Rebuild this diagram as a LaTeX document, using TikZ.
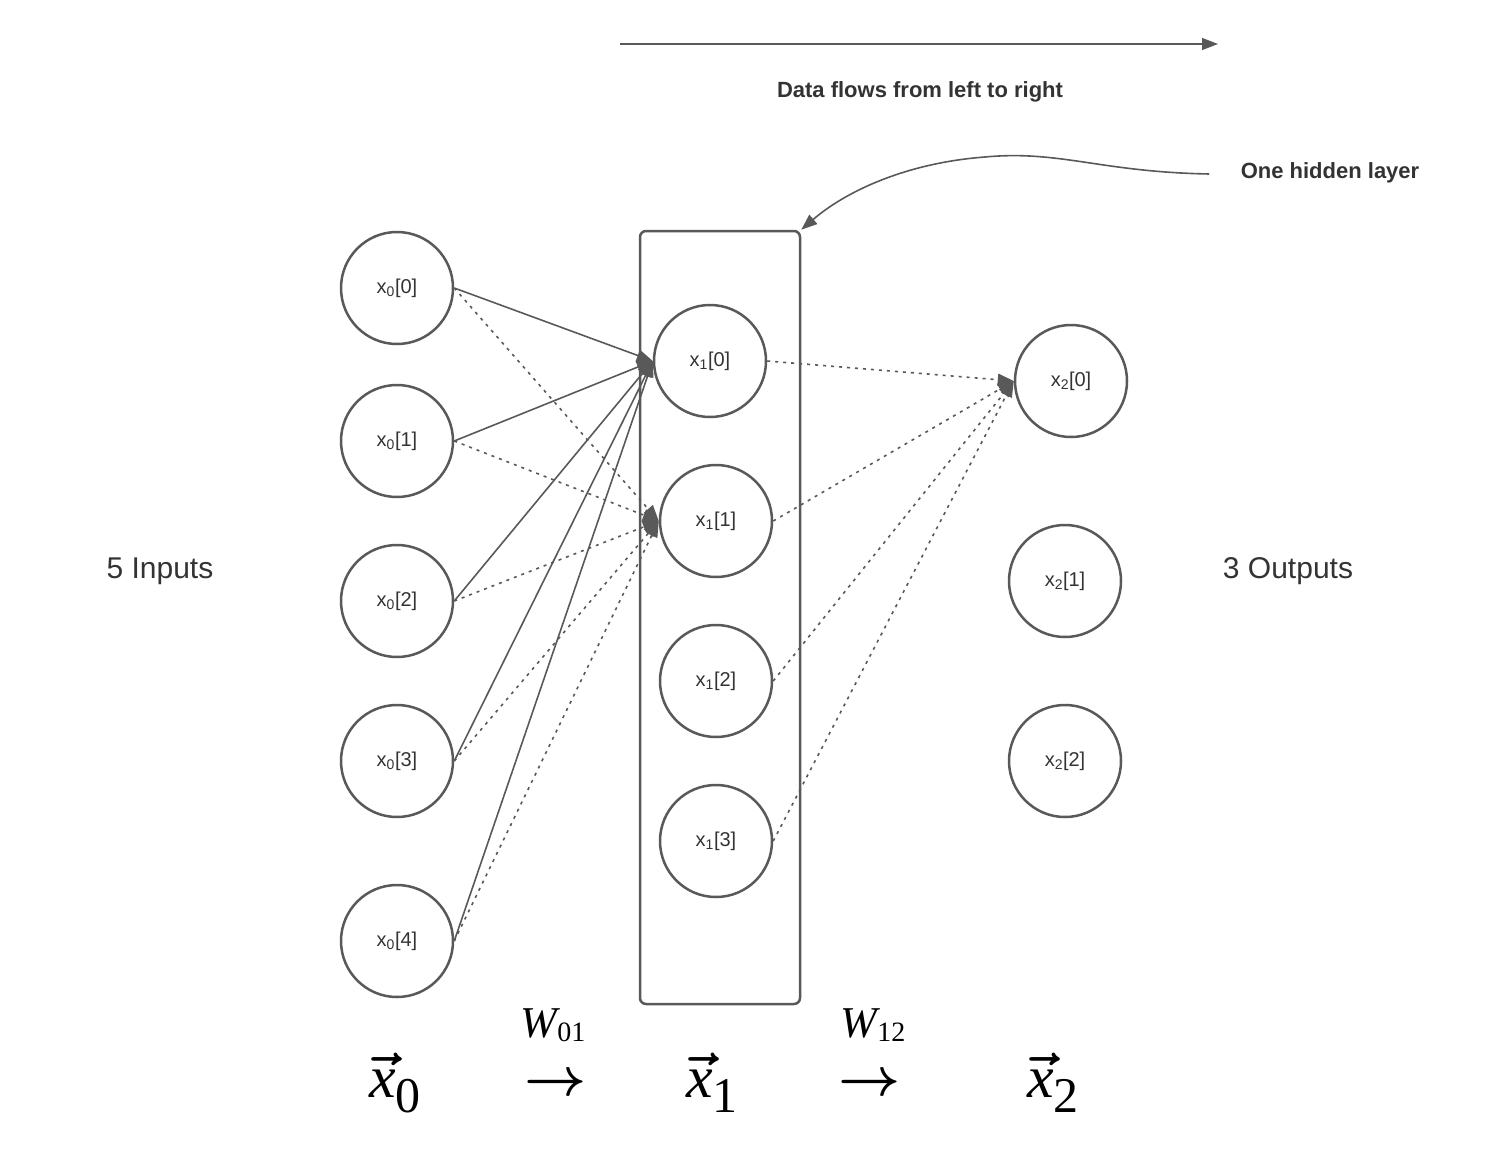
\RequirePackage{fix-cm}
\documentclass[tikz,border=0pt]{standalone}
\usepackage{fontspec}
\setmainfont{Liberation Sans}
\newfontfamily\eqfont{Liberation Serif}
\usetikzlibrary{positioning, arrows.meta}
\usetikzlibrary{calc}
\definecolor{edgegray}{RGB}{89,89,89}
\definecolor{textgray}{RGB}{51,51,51}

\begin{document}
\begin{tikzpicture}[
      x=1pt, y=-1pt,
      neuron/.style={circle, draw=edgegray, line width=2.5pt, minimum size=112pt, inner sep=0pt, text=textgray, font=\fontsize{20}{24}\selectfont},
      wire/.style={draw=edgegray, line width=1.6pt, -{Triangle[length=16pt, width=12pt]}},
      dotwire/.style={wire, dash pattern=on 3pt off 5pt},
      caption/.style={text=textgray, font=\fontsize{22}{26}\selectfont\bfseries},
      side/.style={text=textgray, font=\fontsize{30}{34}\selectfont},
      eq/.style={font=\eqfont\fontsize{60}{62}\selectfont\boldmath}
    ]
      \useasboundingbox (0,0) rectangle (1491,1159);

      % Layers
      \node[draw=edgegray, line width=2.5pt, rounded corners=6pt, minimum width=160pt, minimum height=773pt] (hidden) at (720,617.5) {};
      \foreach \i/\y in {0/288, 1/441, 2/601, 3/761, 4/941}
        \node[neuron] (in\i) at (397,\y) {x\textsubscript{0}[\i]};
      \foreach \j/\x/\y in {0/710/361, 1/716/521, 2/716/681, 3/716/841}
        \node[neuron] (hid\j) at (\x,\y) {x\textsubscript{1}[\j]};
      \foreach \k/\x/\y in {0/1071/381, 1/1065/581, 2/1065/761}
        \node[neuron] (out\k) at (\x,\y) {x\textsubscript{2}[\k]};

      % Connections
      \foreach \i in {0,...,4} {
        \draw[wire] (in\i.east) -- (hid0.west);
        \draw[dotwire] (in\i.east) -- (hid1.west);
      }
      \foreach \j in {0,...,3}
        \draw[dotwire] (hid\j.east) -- (out0.west);

      % Labels
      \node[side] (inlbl) at (160,571) {5 Inputs};
      \node[side] (outlbl) at (1288,571) {3 Outputs};
      \coordinate (flowstart) at (620,44);
      \coordinate (flowend) at (1218,44);
      \draw[wire, line width=1.4pt] (flowstart) -- (flowend);
      \node[caption] (flowlbl) at (920,92) {Data flows from left to right};
      \node[caption] (hidlbl) at (1330,173) {One hidden layer};
      \draw[wire] ($(hidlbl.west)+(-28,1)$) .. controls (1100,172) and (1060,150) .. (985,157)
        .. controls (905,163) and (845,192) .. (hidden.north east);

      % Vectors and weights
      \node[eq] (vec0) at (395,1083) {$\vec{\mbox{\itshape x}}$\raisebox{-15pt}{\fontsize{50}{50}\selectfont 0}};
      \node[eq] (vec1) at (712,1083) {$\vec{\mbox{\itshape x}}$\raisebox{-15pt}{\fontsize{50}{50}\selectfont 1}};
      \node[eq] (vec2) at (1053,1083) {$\vec{\mbox{\itshape x}}$\raisebox{-15pt}{\fontsize{50}{50}\selectfont 2}};
      \node[eq, font=\fontsize{54}{56}\selectfont\boldmath] (map01) at (556,1085) {$\rightarrow$};
      \node[eq, font=\fontsize{54}{56}\selectfont\boldmath] (map12) at (870,1085) {$\rightarrow$};
      \node[eq, font=\eqfont\fontsize{44}{46}\selectfont] (w01) at (553,1025) {\itshape W\raisebox{-4pt}{\upshape\fontsize{28}{28}\selectfont 01}};
      \node[eq, font=\eqfont\fontsize{44}{46}\selectfont] (w12) at (873,1025) {\itshape W\raisebox{-4pt}{\upshape\fontsize{28}{28}\selectfont 12}};

    \end{tikzpicture}
\end{document}
